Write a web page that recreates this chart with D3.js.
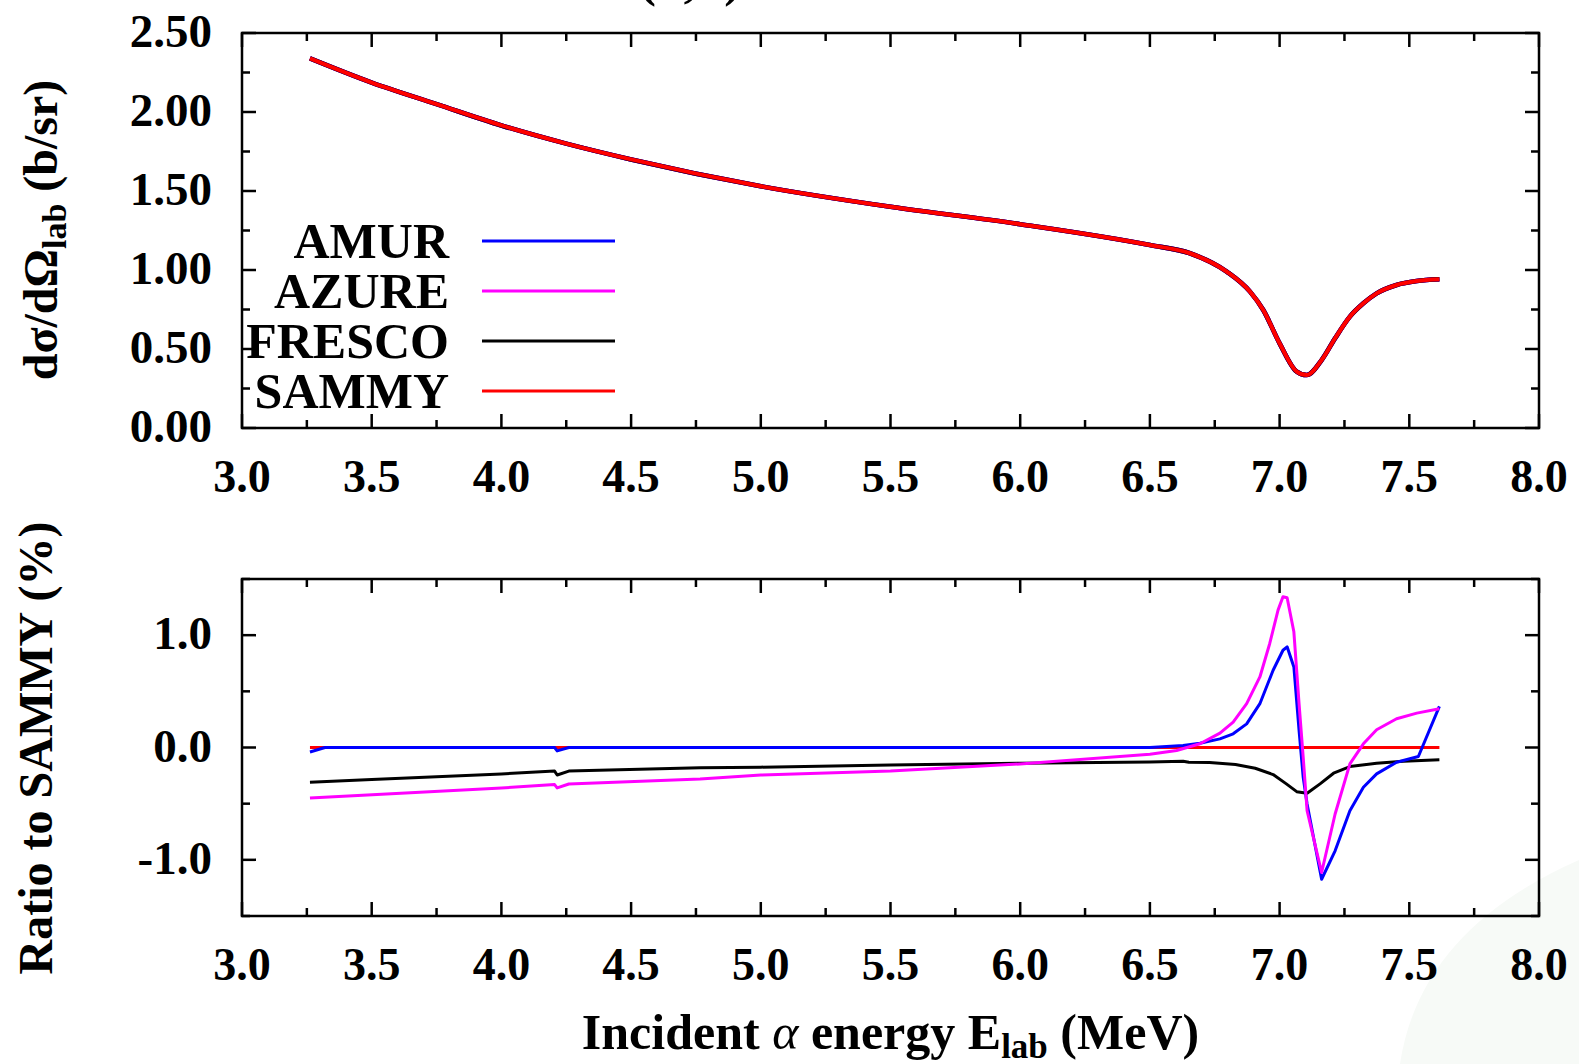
<!DOCTYPE html>
<html>
<head>
<meta charset="utf-8">
<script src="https://cdn.jsdelivr.net/npm/d3@7"></script>
<style>
  html, body { margin: 0; padding: 0; background: #fff; }
  svg { display: block; }
  text { font-family: "Liberation Serif", "Times New Roman", serif; font-weight: bold; fill: #000; }
</style>
</head>
<body>
<div id="chart"></div>
<script>
// cross section, upper panel (all four codes overlap, SAMMY drawn on top)
var sammyE  = [3.262, 3.5, 3.75, 4.0, 4.25, 4.5, 5.0, 5.5, 6.0, 6.5, 6.654, 6.796, 6.886, 6.937, 7.0, 7.066, 7.104, 7.162, 7.214, 7.271, 7.323, 7.374, 7.451, 7.529, 7.616];
var sammyXS = [2.339, 2.186, 2.05, 1.915, 1.80, 1.70, 1.53, 1.40, 1.29, 1.158, 1.106, 0.99, 0.863, 0.747, 0.536, 0.357, 0.335, 0.43, 0.568, 0.705, 0.789, 0.852, 0.905, 0.93, 0.941];

// ratio to SAMMY (%), lower panel
var amurE = [3.262, 3.32, 4.0, 4.205, 4.215, 4.26, 5.0, 6.0, 6.5, 6.628, 6.693, 6.77, 6.821, 6.873, 6.924, 6.975, 7.013, 7.029, 7.055, 7.075, 7.091, 7.106, 7.162, 7.214, 7.271, 7.323, 7.374, 7.451, 7.535, 7.616];
var amurR = [-0.04, 0.0, 0.0, 0.0, -0.03, 0.0, 0.0, 0.0, 0.0, 0.018, 0.038, 0.077, 0.122, 0.21, 0.39, 0.688, 0.866, 0.896, 0.717, 0.152, -0.265, -0.503, -1.173, -0.92, -0.5625, -0.354, -0.235, -0.131, -0.08, 0.366];

var azureE = [3.262, 4.0, 4.205, 4.215, 4.26, 4.766, 5.0, 5.5, 6.0, 6.5, 6.603, 6.693, 6.77, 6.821, 6.873, 6.924, 6.962, 6.994, 7.013, 7.029, 7.055, 7.075, 7.091, 7.106, 7.162, 7.214, 7.271, 7.323, 7.374, 7.451, 7.529, 7.616];
var azureR = [-0.45, -0.36, -0.33, -0.36, -0.325, -0.28, -0.245, -0.21, -0.146, -0.06, -0.027, 0.033, 0.128, 0.226, 0.39, 0.628, 0.926, 1.223, 1.342, 1.333, 1.03, 0.39, -0.087, -0.563, -1.113, -0.592, -0.146, 0.033, 0.158, 0.256, 0.306, 0.345];

var frescoE = [3.262, 3.5, 4.0, 4.205, 4.215, 4.26, 4.766, 5.0, 5.5, 6.0, 6.5, 6.628, 6.65, 6.73, 6.83, 6.906, 6.975, 7.026, 7.066, 7.106, 7.156, 7.208, 7.271, 7.374, 7.477, 7.616];
var frescoR = [-0.31, -0.285, -0.235, -0.21, -0.245, -0.21, -0.18, -0.175, -0.155, -0.14, -0.128, -0.122, -0.132, -0.134, -0.152, -0.185, -0.241, -0.324, -0.393, -0.408, -0.324, -0.229, -0.17, -0.14, -0.122, -0.11];

var sammyRE = [3.262, 7.616];
var sammyR  = [0, 0];

var codes  = ['AMUR', 'AZURE', 'FRESCO', 'SAMMY'];
var colors = ['#0000ff', '#ff00ff', '#000000', '#ff0000'];

var xTicksMajor = [3.0, 3.5, 4.0, 4.5, 5.0, 5.5, 6.0, 6.5, 7.0, 7.5, 8.0];
var yTopTicks   = [0.0, 0.5, 1.0, 1.5, 2.0, 2.5];
var yBotTicks   = [-1.0, 0.0, 1.0];

var width = 1579, height = 1064;
var left = 242, right = 1539;

var svg = d3.select('#chart').append('svg')
    .attr('width', width)
    .attr('height', height);

// faint background swoosh
svg.append('path')
    .attr('d', 'M1400,1064 Q1420,930 1579,860 L1579,1064 Z')
    .attr('fill', '#f7faf7');

// cut-off title at the very top
svg.append('text')
    .attr('x', 690).attr('y', -4)
    .attr('text-anchor', 'middle')
    .style('font-size', '50px')
    .text('(α,α)');

var x = d3.scaleLinear().domain([3, 8]).range([left, right]);
var yTop = d3.scaleLinear().domain([0, 2.5]).range([428, 33]);
var yBot = d3.scaleLinear().domain([-1.5, 1.5]).range([916, 579]);

// plain hyphen for negatives, like the original
function fmt(p) {
    return function (d) { return d3.format('.' + p + 'f')(d).replace('\u2212', '-'); };
}

function frame(y, yMinor, yMajor, yFmt) {
    var g = svg.append('g');
    var y0 = y.range()[0], y1 = y.range()[1];

    // inward ticks on all four sides
    var xMinor = d3.range(3, 8.001, 0.25);
    xMinor.forEach(function (v) {
        var major = Math.abs(v * 2 - Math.round(v * 2)) < 1e-6;
        var len = major ? 14 : 8;
        g.append('line').attr('x1', x(v)).attr('x2', x(v)).attr('y1', y0).attr('y2', y0 - len);
        g.append('line').attr('x1', x(v)).attr('x2', x(v)).attr('y1', y1).attr('y2', y1 + len);
    });
    yMinor.forEach(function (v) {
        var major = yMajor.some(function (m) { return Math.abs(m - v) < 1e-6; });
        var len = major ? 14 : 8;
        g.append('line').attr('x1', left).attr('x2', left + len).attr('y1', y(v)).attr('y2', y(v));
        g.append('line').attr('x1', right).attr('x2', right - len).attr('y1', y(v)).attr('y2', y(v));
    });
    g.selectAll('line').attr('stroke', '#000').attr('stroke-width', 2.5);

    g.append('rect')
        .attr('x', left).attr('y', y1)
        .attr('width', right - left).attr('height', y0 - y1)
        .attr('fill', 'none').attr('stroke', '#000').attr('stroke-width', 2.5);

    // tick labels
    g.selectAll('.xl').data(xTicksMajor).enter().append('text')
        .attr('x', function (d) { return x(d); })
        .attr('y', y0 + 64)
        .attr('text-anchor', 'middle')
        .style('font-size', '46px')
        .text(fmt(1));
    g.selectAll('.yl').data(yMajor).enter().append('text')
        .attr('x', 212)
        .attr('y', function (d) { return y(d) + 14; })
        .attr('text-anchor', 'end')
        .style('font-size', '47px')
        .text(yFmt);
    return g;
}

frame(yTop, d3.range(0, 2.501, 0.25), yTopTicks, fmt(2));
frame(yBot, d3.range(-1.5, 1.501, 0.5), yBotTicks, fmt(1));

// upper panel curves
var lineTop = d3.line()
    .x(function (d) { return x(d[0]); })
    .y(function (d) { return yTop(d[1]); })
    .curve(d3.curveMonotoneX);
var topData = d3.zip(sammyE, sammyXS);
codes.forEach(function (c, i) {
    svg.append('path')
        .datum(topData)
        .attr('d', lineTop)
        .attr('fill', 'none')
        .attr('stroke', colors[i])
        .attr('stroke-width', i === 3 ? 4 : 4.6)
        .attr('stroke-linejoin', 'round');
});

// lower panel ratios
var lineBot = d3.line()
    .x(function (d) { return x(d[0]); })
    .y(function (d) { return yBot(d[1]); });
var ratios = [
    { data: d3.zip(sammyRE, sammyR), color: colors[3] },
    { data: d3.zip(frescoE, frescoR), color: colors[2] },
    { data: d3.zip(amurE, amurR), color: colors[0] },
    { data: d3.zip(azureE, azureR), color: colors[1] }
];
ratios.forEach(function (s) {
    svg.append('path')
        .datum(s.data)
        .attr('d', lineBot)
        .attr('fill', 'none')
        .attr('stroke', s.color)
        .attr('stroke-width', 3)
        .attr('stroke-linejoin', 'round');
});

// legend
var legend = svg.append('g');
codes.forEach(function (c, i) {
    var ly = 241 + i * 50;
    legend.append('text')
        .attr('x', 449).attr('y', ly + 17)
        .attr('text-anchor', 'end')
        .style('font-size', '50px')
        .text(c);
    legend.append('line')
        .attr('x1', 482).attr('x2', 615)
        .attr('y1', ly).attr('y2', ly)
        .attr('stroke', colors[i]).attr('stroke-width', 3);
});

// axis titles
var yt = svg.append('text')
    .attr('transform', 'translate(57,230) rotate(-90)')
    .attr('text-anchor', 'middle')
    .style('font-size', '48px');
yt.append('tspan').text('dσ/dΩ');
yt.append('tspan').attr('dy', 9).style('font-size', '34px').text('lab');
yt.append('tspan').attr('dy', -9).text(' (b/sr)');

svg.append('text')
    .attr('transform', 'translate(52,748) rotate(-90)')
    .attr('text-anchor', 'middle')
    .style('font-size', '48px')
    .text('Ratio to SAMMY (%)');

var xt = svg.append('text')
    .attr('x', (left + right) / 2).attr('y', 1049)
    .attr('text-anchor', 'middle')
    .style('font-size', '50px');
xt.append('tspan').text('Incident ');
xt.append('tspan').style('font-style', 'italic').style('font-weight', 'normal').text('α');
xt.append('tspan').text(' energy E');
xt.append('tspan').attr('dy', 9).style('font-size', '35px').text('lab');
xt.append('tspan').attr('dy', -9).text(' (MeV)');
</script>
</body>
</html>
